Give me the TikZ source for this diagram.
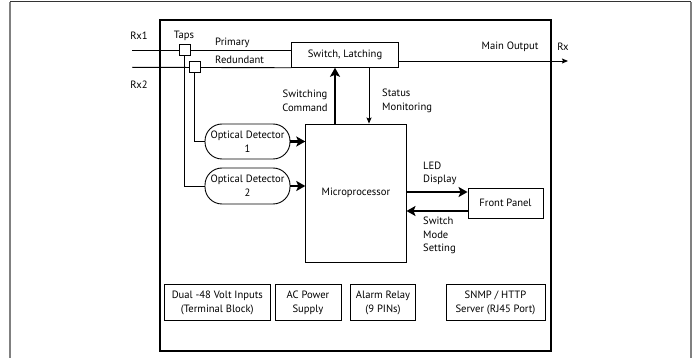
\documentclass[tikz,border=0pt]{standalone}
\usepackage{fontspec}
\setmainfont{PT Sans}
\usetikzlibrary{arrows.meta,calc}
\begin{document}
\begin{tikzpicture}[x=1pt,y=-1pt,
  font=\fontsize{10.6}{13.6}\selectfont,
  every node/.style={inner sep=0pt},
  box/.style={draw, line width=0.9pt, fill=white, align=center},
  line/.style={line width=0.9pt},
  thickarrow/.style={line width=2.4pt, -{Stealth[length=9pt,width=10pt,inset=2pt]}},
  thinarrow/.style={line width=0.9pt, -{Stealth[length=6pt,width=5pt,inset=1pt]}},
  lbl/.style={align=left, anchor=west},
  detector/.style={box, rounded corners=17pt}
]
\useasboundingbox (0,0) rectangle (697,358);
% outer frame
\draw[line width=1pt, black!80] (10,2) -- (691,2);
\draw[line width=1.6pt, gray] (10,2) -- (10,358);
\draw[line width=1.6pt, gray] (691,2) -- (691,358);

% main box
\node[draw, line width=1.1pt, minimum width=391pt, minimum height=331pt] (main) at (355.5,185.5) {};

% blocks
\node[box, minimum width=106.6pt, minimum height=24.6pt] (switch) at (345,55) {Switch, Latching};
\node[box, minimum width=100.3pt, minimum height=138pt] (micro) at (355.9,193) {Microprocessor};
\node[detector, minimum width=85pt, minimum height=35pt] (od1) at (247.5,141.5) {Optical Detector\\1};
\node[detector, minimum width=85pt, minimum height=36pt] (od2) at (247.5,186) {Optical Detector\\2};
\node[box, minimum width=75pt, minimum height=30pt] (fp) at (505.5,203) {Front Panel};
\node[box, minimum width=106.7pt, minimum height=35.7pt] (b1) at (217.3,302.8) {Dual -48 Volt Inputs\\(Terminal Block)};
\node[box, minimum width=66pt, minimum height=35.7pt] (b2) at (308,302.8) {AC Power\\Supply};
\node[box, minimum width=64.3pt, minimum height=35.7pt] (b3) at (383,302.8) {Alarm Relay\\(9 PINs)};
\node[box, minimum width=99pt, minimum height=35.7pt] (b4) at (495.5,302.8) {SNMP / HTTP\\Server (RJ45 Port)};

% input lines
\coordinate (p0) at (132,50);
\coordinate (r0) at (132,67.3);
\draw[line] (p0) -- (p0 -| switch.west);
\draw[line] (r0) -- (switch.south west);

% taps
\node[box, minimum width=11pt, minimum height=10.7pt] (tap1) at (184.5,50.3) {};
\node[box, minimum width=11pt, minimum height=10.7pt] (tap2) at (194.5,67) {};
\draw[line] (tap1.south) |- (od2.west);
\draw[line] (tap2.south) |- (od1.west);

% labels top
\node (rx1) at (139,36) {Rx1};
\node (rx2) at (139,85) {Rx2};
\node (taps) at (184,36) {Taps};
\node[lbl] (prim) at (215,43) {Primary};
\node[lbl] (red) at (215,59.5) {Redundant};

% main output
\coordinate (mo) at (568,61);
\draw[thinarrow] (mo -| switch.east) -- (mo);
\node (mol) at (510,47) {Main Output};
\node (rx) at (563,47) {Rx};

% switching command / status
\coordinate (sc) at (335,0);
\coordinate (st) at (369,0);
\draw[thickarrow] (sc |- micro.north) -- (sc |- switch.south);
\draw[thinarrow] (st |- switch.south) -- (st |- micro.north);
\node[align=center] (scl) at (305,101) {Switching\\Command};
\node[lbl] (stl) at (382,101) {Status\\Monitoring};

% detectors to micro
\draw[thickarrow] (od1.east) -- (od1.east -| micro.west);
\draw[thickarrow] (od2.east) -- (od2.east -| micro.west);

% front panel
\coordinate (led) at (0,192);
\coordinate (swm) at (0,211);
\draw[thickarrow] (led -| micro.east) -- (led -| fp.west);
\draw[thickarrow] (swm -| fp.west) -- (swm -| micro.east);
\node[lbl] (ledl) at (423,173.5) {LED\\Display};
\node[lbl] (swml) at (423,235.5) {Switch\\Mode\\Setting};
\end{tikzpicture}
\end{document}
